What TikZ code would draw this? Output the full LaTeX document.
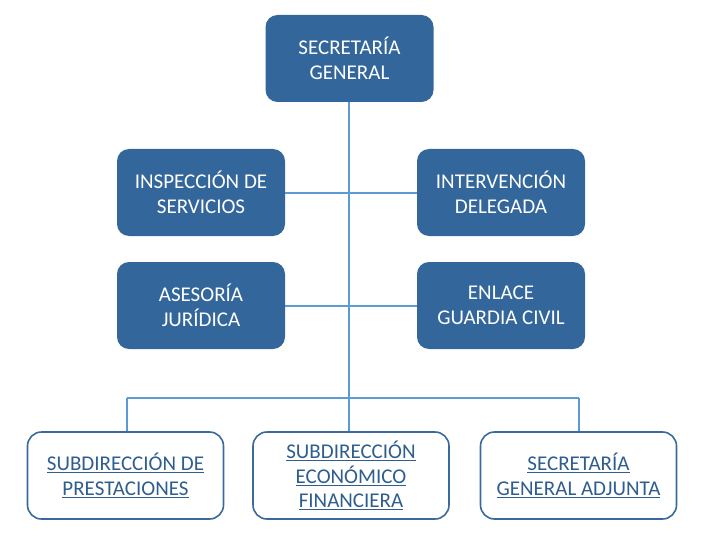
\documentclass[tikz,border=0pt]{standalone}
\usepackage{fontspec}
\setmainfont{Carlito}
\definecolor{boxfill}{HTML}{33669A}
\definecolor{boxline}{HTML}{3A6A9C}
\definecolor{conn}{HTML}{5B9BD5}
\definecolor{linktext}{HTML}{2E5E8E}
\begin{document}
\begin{tikzpicture}[x=1pt,y=-1pt,
  darkbox/.style={draw=none,fill=boxfill,rounded corners=12pt,text=white,
    minimum width=168pt,minimum height=87pt,align=center,font=\fontsize{21}{25}\selectfont,inner sep=0pt},
  lightbox/.style={draw=boxline,line width=1.6pt,fill=white,rounded corners=14pt,text=linktext,
    minimum width=196pt,minimum height=87pt,align=center,font=\fontsize{21}{24.5}\selectfont,inner sep=0pt},
  connector/.style={draw=conn,line width=2pt}]
\useasboundingbox (0,0) rectangle (703,540);
\node[darkbox] (sg) at (349.5,58.5) {SECRETARÍA\\GENERAL};
\node[darkbox] (insp) at (201,192.5) {INSPECCIÓN DE\\SERVICIOS};
\node[darkbox] (interv) at (501,192.5) {INTERVENCIÓN\\DELEGADA};
\node[darkbox] (ases) at (201,305.5) {ASESORÍA\\JURÍDICA};
\node[darkbox] (enl) at (501,305.5) {ENLACE\\GUARDIA CIVIL};
\node[lightbox] (sub1) at (125.5,475.5) {\underline{SUBDIRECCIÓN DE}\\\underline{PRESTACIONES}};
\node[lightbox] (sub2) at (351,475.5) {\underline{SUBDIRECCIÓN}\\\underline{ECONÓMICO}\\\underline{FINANCIERA}};
\node[lightbox] (sub3) at (578.5,475.5) {\underline{SECRETARÍA}\\\underline{GENERAL ADJUNTA}};
\coordinate (hub) at (349,398);
\coordinate (hl) at (127,398);
\coordinate (hr) at (579,398);
\draw[connector] (insp.east) -- (interv.west);
\draw[connector] (ases.east) -- (enl.west);
\draw[connector] (sg.south -| hub) -- (hub);
\draw[connector] (hl) -- (hr);
\draw[connector] (hl) -- (hl |- sub1.north);
\draw[connector] (hub) -- (hub |- sub2.north);
\draw[connector] (hr) -- (hr |- sub3.north);
\end{tikzpicture}
\end{document}
